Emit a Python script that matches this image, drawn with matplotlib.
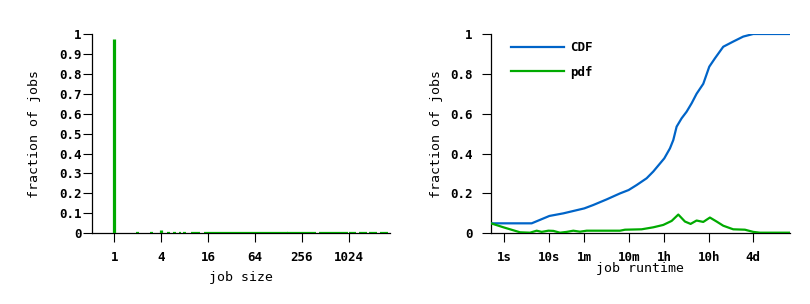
import matplotlib.pyplot as plt
from matplotlib.ticker import NullLocator

# left panel: distribution of job sizes
job_size_bars = [1, 4]
job_size_frac = [0.975, 0.017]
# sizes with only a handful of jobs, they sit on the baseline
rare_size_ranges = [(2, 2), (3, 3), (5, 5), (6, 6), (7, 7), (8, 8), (10, 12),
                    (15, 165), (172, 270), (298, 380), (440, 970),
                    (1070, 1240), (1440, 1670), (1930, 2240), (2730, 3170)]
size_ticks = [1, 4, 16, 64, 256, 1024]

# right panel: job runtime (seconds)
runtime_cdf_s = [0.514, 4.12, 10.2, 20.8, 61, 96.6, 191, 378, 589, 887, 1480,
                 2083, 2930, 3657, 4885, 5800, 6874, 8880, 11460, 14800, 19100,
                 26900, 36600, 48900, 74800, 124700, 208000, 347000, 2270000]
cdf = [0.05, 0.05, 0.087, 0.10, 0.125, 0.142, 0.17, 0.20, 0.217, 0.242, 0.276,
       0.31, 0.35, 0.376, 0.426, 0.468, 0.535, 0.577, 0.61, 0.652, 0.70,
       0.75, 0.836, 0.878, 0.936, 0.962, 0.987, 1.0, 1.0]
runtime_pdf_s = [0.514, 0.97, 2.27, 3.78, 5.32, 6.87, 9.67, 12.5, 17.5, 24.7,
                 34.7, 48.9, 68.7, 378, 489, 1146, 2083, 3474, 5324, 7490,
                 10520, 14060, 19100, 26900, 37800, 53200, 74800, 124700,
                 227000, 347000, 489000, 2270000]
pdf = [0.05, 0.03, 0.005, 0.003, 0.013, 0.007, 0.013, 0.012, 0.003, 0.007,
       0.013, 0.008, 0.013, 0.013, 0.018, 0.02, 0.03, 0.042, 0.062, 0.094,
       0.059, 0.047, 0.064, 0.057, 0.079, 0.059, 0.038, 0.02, 0.018, 0.007,
       0.003, 0.003]
runtime_ticks = [1, 10, 60, 600, 3600, 36000, 345600]
runtime_labels = ['1s', '10s', '1m', '10m', '1h', '10h', '4d']

blue = '#0064c8'
green = '#00aa00'
mono = 'DejaVu Sans Mono'

fig = plt.figure(figsize=(8.1, 3.04), dpi=100)
ax1 = fig.add_axes([0.1136, 0.2326, 0.368, 0.6556])
ax2 = fig.add_axes([0.6062, 0.2326, 0.369, 0.6556])


def style(ax):
    for s in ['top', 'right']:
        ax.spines[s].set_visible(False)
    for s in ['left', 'bottom']:
        ax.spines[s].set_linewidth(0.9)
    ax.tick_params(direction='out', length=6.5, width=0.8, color='black')
    ax.xaxis.set_minor_locator(NullLocator())
    for lab in ax.get_xticklabels() + ax.get_yticklabels():
        lab.set_fontfamily(mono)
        lab.set_fontweight('bold')
        lab.set_fontsize(9)


# ---- job size
ax1.set_xscale('log', base=2)
ax1.vlines(job_size_bars, 0, job_size_frac, color=green, lw=2.3, zorder=3)
for lo, hi in rare_size_ranges:
    ax1.hlines(0, lo * 2 ** -0.06, hi * 2 ** 0.06, color=green, lw=1.6, zorder=3)
ax1.set_xlim(0.52, 3490)
ax1.set_ylim(0, 1)
ax1.set_xticks(size_ticks)
ax1.set_xticklabels([str(t) for t in size_ticks])
ax1.set_yticks([i / 10 for i in range(11)])
ax1.set_yticklabels(['0'] + ['0.%d' % i for i in range(1, 10)] + ['1'])
style(ax1)
ax1.tick_params(axis='x', pad=6)
ax1.tick_params(axis='y', pad=1)
ax1.set_xlabel('job size', fontfamily=mono, fontsize=9.5, labelpad=5.5)
ax1.set_ylabel('fraction of jobs', fontfamily=mono, fontsize=9.5, labelpad=13)

# ---- job runtime
ax2.set_xscale('log')
ax2.plot(runtime_cdf_s, cdf, color=blue, lw=1.6, label='CDF', zorder=3)
ax2.plot(runtime_pdf_s, pdf, color=green, lw=1.6, label='pdf', zorder=3)
ax2.set_xlim(0.514, 2.27e6)
ax2.set_ylim(0, 1)
ax2.set_xticks(runtime_ticks)
ax2.set_xticklabels(runtime_labels)
ax2.set_yticks([0, 0.2, 0.4, 0.6, 0.8, 1])
ax2.set_yticklabels(['0', '0.2', '0.4', '0.6', '0.8', '1'])
style(ax2)
ax2.tick_params(axis='x', pad=6)
ax2.tick_params(axis='y', pad=7)
ax2.set_xlabel('job runtime', fontfamily=mono, fontsize=9.5, labelpad=-1)
ax2.set_ylabel('fraction of jobs', fontfamily=mono, fontsize=9.5, labelpad=5)
ax2.legend(loc='upper left', bbox_to_anchor=(0.03, 1.02), frameon=False,
           handlelength=4.2, handletextpad=0.55, labelspacing=0.9,
           prop={'family': mono, 'weight': 'bold', 'size': 9})

fig.savefig('out.png', dpi=100)
